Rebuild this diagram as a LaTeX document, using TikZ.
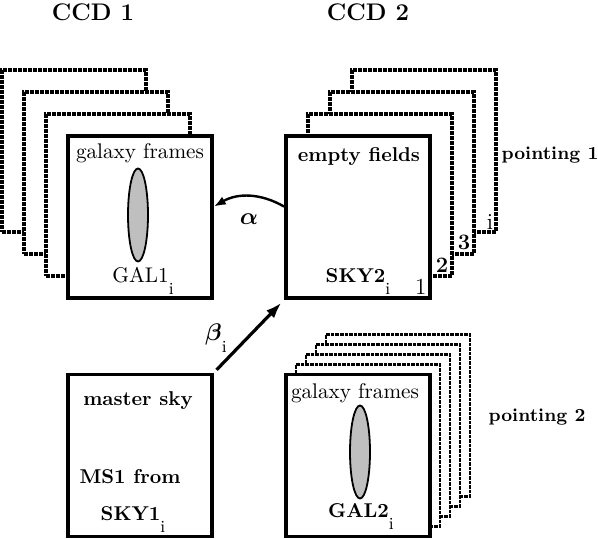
\documentclass[tikz,border=0pt]{standalone}
\usepackage{tikz}
\usepackage{amsmath}
\usetikzlibrary{shapes.geometric, arrows.meta, positioning}

\newcommand{\lowi}{\raisebox{-6pt}{\fontsize{8.5}{9}\selectfont\mdseries i}}

\begin{document}
\begin{tikzpicture}[x=0.5pt, y=-0.5pt,
    frame/.style={draw, line width=1.8pt, fill=white, minimum width=72pt, minimum height=81pt, inner sep=0pt},
    ghost/.style={frame, line width=1.6pt, dash pattern=on 2pt off 0.5pt},
    thinghost/.style={ghost, line width=1.3pt, dash pattern=on 1.8pt off 0.5pt},
    blob/.style={ellipse, draw, line width=0.9pt, fill=black!25, minimum width=10pt, minimum height=46.5pt, inner sep=0pt},
    lbl/.style={font=\fontsize{10.6}{12}\selectfont},
    blbl/.style={font=\fontsize{10}{12}\selectfont\bfseries},
    plbl/.style={font=\fontsize{9.2}{12}\selectfont\bfseries},
    title/.style={font=\fontsize{12}{14}\selectfont\bfseries},
    num/.style={above left, inner sep=2.5pt, font=\fontsize{11.5}{12}\selectfont}]
    \useasboundingbox (0,0) rectangle (598,539);

    % Titles
    \node[title] (ccd1) at (93,12) {CCD 1};
    \node[title] (ccd2) at (368,12) {CCD 2};

    % Frames behind CCD 1
    \foreach \k in {3,2,1} {
        \node[ghost] (ga\k) at ({140-22*\k},{217-22*\k}) {};
    }
    % Frames of pointing 1
    \foreach \k in {3,2,1} {
        \node[ghost] (pa\k) at ({358+22*\k},{217-22*\k}) {};
    }
    % Frames of pointing 2
    \foreach \k in {4,3,2,1} {
        \node[thinghost] (pb\k) at ({358+10*\k},{455.5-10*\k}) {};
    }

    % Front boxes
    \node[frame] (gal1) at (140,217) {};
    \node[frame] (sky2) at (358,217) {};
    \node[frame] (ms1) at (140,455.5) {};
    \node[frame] (gal2) at (358,455.5) {};

    % Galaxies
    \node[blob] (e1) at (138,215) {};
    \node[blob] (e2) at (360,452) {};

    % Texts in the boxes
    \node[lbl, anchor=base] (t1) at (140,159) {galaxy frames};
    \node[lbl, anchor=base] (n1) at (143,282) {GAL1\lowi};
    \node[blbl, anchor=base] (t2) at (359,162) {empty fields};
    \node[blbl, anchor=base] (n2) at (358,282) {SKY2\lowi};
    \node[blbl, anchor=base] (t3) at (138,405) {master sky};
    \node[blbl, anchor=base] (t4) at (130,483) {MS1 from};
    \node[blbl, anchor=base] (n3) at (133,520) {SKY1\lowi};
    \node[lbl, anchor=base] (t5) at (355,398) {galaxy frames};
    \node[blbl, anchor=base] (n4) at (361,517) {GAL2\lowi};

    % Frame numbers
    \node[num] at (sky2.south east) {1};
    \node[num, font=\fontsize{11}{12}\selectfont\bfseries] at (pa1.south east) {2};
    \node[num, font=\fontsize{11}{12}\selectfont\bfseries] at (pa2.south east) {3};
    \node[num, inner sep=2pt] at (pa3.south east) {i};

    % Pointings
    \node[plbl, anchor=base] (p1) at (550,160) {pointing 1};
    \node[plbl, anchor=base] (p2) at (537,421) {pointing 2};

    % Arrows
    \draw[line width=1.2pt, -{Latex[length=6pt, width=4.5pt]}] (sky2.172) to[bend right=30]
        node[midway, below=5pt, font=\fontsize{12}{12}\selectfont] (alpha) {$\boldsymbol{\alpha}$} (gal1.8);
    \draw[line width=1.6pt, -{Latex[length=8pt, width=5.5pt]}, shorten <=2pt, shorten >=2pt] (ms1.north east) -- (sky2.south west);
    \node[font=\fontsize{12}{12}\selectfont] (beta) at (216,338) {$\boldsymbol{\beta}$\lowi};
\end{tikzpicture}
\end{document}
